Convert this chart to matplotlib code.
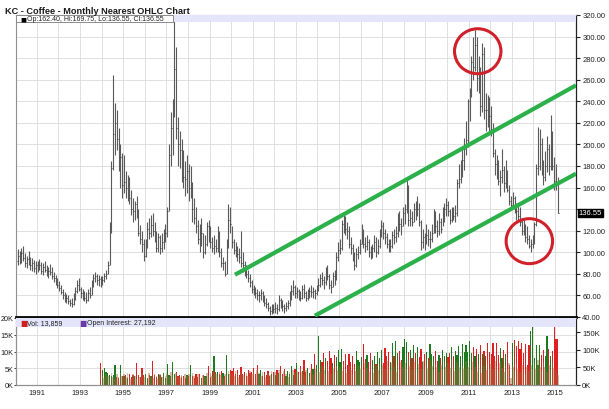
import numpy as np
import matplotlib
matplotlib.use('Agg')
import matplotlib.pyplot as plt
from matplotlib.patches import Ellipse, Rectangle

plt.rcParams['font.family'] = ['Liberation Sans', 'DejaVu Sans']

# monthly KC coffee, Jan 1990 .. Feb 2015 (cents/lb)
high = [
    100, 103, 101, 104, 106, 99, 97, 101, 96, 95, 93, 92,          # 1990
    92, 94, 91, 90, 92, 88, 86, 89, 86, 82, 79, 76,                # 1991
    73, 70, 66, 63, 61, 60, 57, 58, 62, 68, 74, 76,                # 1992
    68, 66, 64, 63, 66, 68, 74, 80, 82, 80, 79, 78,                # 1993
    78, 81, 84, 92, 128, 185, 264, 238, 232, 215, 200, 192,        # 1994
    190, 175, 172, 170, 158, 150, 148, 152, 140, 125, 120, 112,    # 1995
    112, 128, 132, 135, 136, 128, 120, 118, 116, 118, 122, 126,    # 1996
    142, 200, 230, 242, 318, 290, 225, 212, 205, 195, 185, 190,    # 1997
    182, 180, 165, 150, 142, 130, 126, 132, 118, 116, 128, 130,    # 1998
    124, 114, 116, 112, 124, 120, 104, 96, 92, 112, 145, 142,      # 1999
    124, 112, 110, 106, 104, 120, 100, 92, 88, 84, 80, 74,         # 2000
    70, 68, 66, 64, 66, 64, 60, 58, 54, 50, 52, 52,                # 2001
    54, 52, 60, 58, 56, 52, 54, 56, 64, 70, 74, 70,                # 2002
    68, 66, 64, 70, 71, 64, 66, 68, 70, 68, 66, 70,                # 2003
    76, 80, 82, 78, 86, 88, 80, 74, 82, 84, 100, 110,              # 2004
    112, 130, 137, 134, 128, 124, 114, 108, 100, 104, 106, 112,    # 2005
    126, 122, 114, 116, 112, 106, 108, 116, 114, 112, 122, 130,    # 2006
    128, 122, 118, 112, 112, 120, 122, 124, 136, 138, 132, 142,    # 2007
    145, 168, 162, 140, 138, 146, 148, 152, 146, 130, 122, 118,    # 2008
    126, 122, 120, 126, 140, 138, 130, 136, 132, 142, 146, 150,    # 2009
    148, 140, 142, 142, 144, 168, 182, 186, 196, 206, 222, 242,    # 2010
    252, 282, 300, 306, 300, 282, 272, 294, 290, 248, 246, 244,    # 2011
    236, 220, 196, 190, 186, 176, 196, 180, 186, 176, 162, 152,    # 2012
    156, 152, 146, 146, 142, 132, 130, 126, 124, 116, 112, 116,    # 2013
    128, 182, 216, 214, 206, 186, 194, 208, 200, 227, 212, 188,    # 2014
    182, 169.75,                                                   # 2015
]
low = [
    84, 88, 89, 90, 92, 86, 85, 88, 84, 83, 82, 80,
    82, 84, 80, 79, 82, 78, 76, 79, 75, 72, 70, 67,
    64, 61, 57, 54, 53, 52, 50, 49, 51, 56, 62, 64,
    58, 56, 55, 53, 55, 58, 60, 68, 72, 70, 69, 68,
    70, 72, 75, 80, 88, 118, 176, 190, 195, 175, 160, 150,
    155, 150, 148, 145, 135, 128, 130, 132, 115, 108, 100, 92,
    96, 104, 112, 114, 115, 110, 100, 100, 98, 100, 103, 110,
    114, 138, 180, 190, 225, 205, 180, 178, 165, 160, 152, 155,
    148, 150, 128, 126, 118, 108, 100, 106, 95, 98, 106, 110,
    104, 100, 98, 100, 100, 96, 86, 84, 78, 80, 104, 118,
    104, 98, 96, 92, 90, 86, 82, 78, 76, 72, 68, 62,
    60, 58, 56, 54, 56, 54, 50, 48, 46, 42, 43, 44,
    44, 43, 46, 48, 46, 44, 46, 47, 50, 56, 60, 58,
    58, 56, 55, 57, 58, 55, 56, 58, 59, 58, 57, 60,
    64, 68, 70, 66, 70, 74, 66, 62, 68, 70, 74, 92,
    98, 102, 118, 116, 112, 104, 98, 92, 84, 86, 94, 98,
    108, 104, 100, 102, 96, 94, 95, 100, 96, 98, 104, 114,
    112, 108, 104, 100, 100, 104, 108, 110, 114, 120, 116, 124,
    126, 136, 124, 124, 124, 128, 130, 134, 124, 102, 104, 102,
    108, 106, 104, 110, 118, 118, 114, 116, 118, 124, 128, 134,
    134, 126, 128, 130, 128, 134, 160, 164, 170, 176, 190, 198,
    222, 244, 260, 268, 250, 248, 226, 230, 224, 212, 216, 210,
    208, 188, 172, 168, 162, 152, 164, 156, 160, 156, 144, 140,
    140, 136, 130, 130, 124, 116, 116, 110, 108, 104, 100, 104,
    108, 124, 172, 176, 172, 162, 166, 174, 172, 176, 176, 158,
    158, 136.55,
]
close = [
    92, 97, 92, 99, 95, 90, 94, 91, 88, 90, 85, 88,
    86, 88, 83, 86, 84, 80, 83, 82, 78, 76, 73, 70,
    67, 63, 60, 57, 58, 55, 53, 52, 58, 64, 70, 66,
    62, 59, 58, 56, 62, 60, 70, 76, 78, 74, 75, 72,
    74, 78, 80, 88, 122, 178, 210, 220, 205, 182, 188, 162,
    165, 160, 168, 150, 140, 138, 145, 135, 118, 112, 108, 97,
    108, 122, 118, 125, 120, 115, 104, 114, 104, 110, 116, 118,
    138, 190, 215, 230, 270, 215, 200, 195, 178, 170, 168, 175,
    160, 170, 140, 132, 124, 112, 110, 118, 100, 108, 124, 118,
    110, 104, 106, 104, 118, 100, 90, 90, 80, 104, 130, 126,
    110, 102, 100, 98, 96, 90, 88, 84, 80, 76, 72, 66,
    64, 62, 60, 60, 62, 57, 53, 52, 48, 46, 49, 47,
    48, 47, 56, 52, 50, 48, 50, 53, 60, 64, 68, 62,
    64, 60, 58, 66, 62, 58, 62, 64, 63, 64, 62, 65,
    70, 76, 74, 72, 82, 78, 70, 68, 78, 76, 96, 102,
    104, 126, 124, 122, 120, 108, 104, 96, 88, 98, 100, 108,
    116, 108, 106, 110, 100, 98, 104, 110, 100, 106, 120, 124,
    118, 114, 108, 104, 106, 116, 114, 118, 130, 126, 124, 136,
    140, 150, 130, 132, 128, 140, 136, 140, 128, 110, 114, 110,
    116, 112, 112, 118, 134, 124, 120, 128, 122, 136, 140, 144,
    138, 130, 136, 134, 136, 164, 168, 180, 186, 196, 204, 240,
    246, 276, 272, 292, 262, 270, 236, 284, 232, 232, 228, 226,
    214, 192, 182, 176, 166, 170, 176, 164, 172, 158, 148, 144,
    150, 140, 138, 134, 128, 120, 118, 114, 112, 106, 108, 112,
    126, 178, 180, 200, 178, 170, 180, 196, 180, 200, 180, 166,
    163, 136.55,
]

# volume (K contracts) and open interest (K contracts), Dec 1993 .. Feb 2015
volume = [
    6.6,
    4.5, 5.0, 4.0, 3.5, 3.0, 2.8, 3.0, 6.0, 2.5, 2.0, 6.0, 2.8,
    2.6, 3.0, 2.0, 3.2, 2.4, 3.0, 2.8, 6.6, 3.0, 2.5, 5.2, 3.0,
    3.4, 2.2, 3.0, 2.6, 7.2, 3.0, 2.4, 3.2, 3.0, 2.4, 3.6, 2.2,
    6.2, 3.0, 2.8, 7.0, 3.4, 4.0, 2.6, 3.0, 2.4, 2.8, 2.0, 3.0,
    2.6, 6.0, 2.8, 2.0, 3.2, 2.4, 3.4, 2.2, 3.0, 2.6, 2.8, 5.6,
    2.4, 4.2, 8.6, 3.8, 4.0, 3.2, 4.2, 3.6, 2.8, 9.0, 3.4, 4.6,
    4.2, 5.2, 3.4, 4.6, 3.0, 5.4, 3.2, 4.0, 2.8, 4.4, 3.6, 3.8,
    5.0, 3.4, 6.0, 3.2, 4.6, 2.8, 3.8, 3.0, 4.2, 2.6, 3.4, 4.0,
    3.0, 4.4, 3.6, 5.8, 3.2, 4.8, 2.8, 4.2, 3.4, 5.6, 3.0, 4.8,
    6.6, 3.8, 5.6, 4.2, 7.6, 4.0, 5.2, 3.6, 6.2, 4.8, 9.4, 6.0,
    14.6, 7.6, 6.8, 9.6, 8.0, 7.2, 10.2, 8.2, 6.6, 9.0, 8.4, 10.4,
    7.0, 10.6, 7.2, 9.4, 6.0, 9.2, 7.0, 8.6, 6.2, 10.2, 7.4, 6.8,
    8.4, 12.2, 7.8, 9.0, 6.8, 9.6, 7.6, 8.8, 6.4, 9.8, 8.2, 10.4,
    6.6, 11.0, 8.8, 9.8, 7.0, 12.4, 8.6, 13.2, 9.6, 10.2, 7.6, 11.4,
    13.6, 12.8, 9.8, 10.4, 8.2, 12.0, 9.6, 11.2, 8.4, 10.8, 7.0, 9.4,
    10.0, 8.0, 12.2, 9.4, 8.6, 10.2, 7.2, 9.0, 8.2, 10.4, 8.8, 9.6,
    8.4, 9.6, 11.2, 8.6, 10.2, 9.0, 11.6, 8.8, 12.2, 10.0, 12.0, 9.8,
    13.2, 9.6, 11.4, 8.8, 10.6, 9.2, 11.8, 9.4, 10.2, 8.6, 12.6, 10.0,
    9.4, 12.4, 8.6, 12.4, 9.0, 11.0, 8.2, 10.4, 9.2, 12.8, 6.0, 0.4,
    12.4, 13.4, 11.6, 13.0, 10.8, 12.6, 9.6, 12.2, 6.0, 11.8, 16.0, 19.0,
    8.0, 12.0, 6.0, 11.8, 9.0, 10.4, 8.8, 14.6, 10.6, 8.6, 10.2, 17.4,
    13.6, 13.859,
]
open_int = [
    30,
    28, 20, 32, 26, 18, 34, 24, 16, 30, 22, 35, 26,
    30, 22, 34, 26, 18, 32, 25, 17, 28, 22, 33, 24,
    29, 21, 33, 27, 19, 31, 26, 18, 30, 23, 34, 25,
    31, 24, 36, 28, 20, 33, 27, 19, 29, 22, 32, 26,
    30, 23, 35, 27, 21, 32, 26, 18, 28, 24, 34, 27,
    33, 25, 38, 30, 22, 36, 28, 20, 32, 26, 40, 30,
    35, 27, 40, 31, 24, 37, 29, 21, 34, 27, 39, 30,
    36, 28, 42, 33, 25, 38, 30, 22, 35, 28, 41, 32,
    38, 30, 44, 34, 26, 40, 32, 24, 37, 30, 43, 33,
    40, 31, 47, 36, 28, 43, 34, 26, 40, 32, 46, 36,
    48, 36, 55, 42, 32, 50, 40, 30, 46, 37, 54, 42,
    52, 40, 60, 46, 35, 55, 44, 32, 50, 40, 58, 45,
    55, 42, 63, 48, 37, 58, 46, 34, 53, 42, 61, 47,
    58, 45, 68, 52, 40, 62, 50, 36, 57, 45, 66, 51,
    64, 48, 72, 55, 42, 66, 52, 38, 60, 46, 68, 52,
    60, 46, 70, 53, 40, 64, 50, 37, 58, 45, 66, 50,
    62, 47, 71, 54, 41, 65, 51, 38, 59, 46, 67, 51,
    58, 44, 66, 50, 38, 60, 47, 35, 55, 43, 62, 48,
    60, 46, 68, 52, 40, 62, 49, 36, 56, 44, 64, 20,
    52, 40, 60, 46, 36, 56, 44, 32, 52, 40, 58, 45,
    62, 46, 70, 52, 40, 64, 50, 36, 58, 44, 66, 48,
    42, 27.192,
]
vol_start = 47   # Dec 1993 = month index 47 from Jan 1990

# trend channel (year, price) and circled areas (year, price)
upper_channel = [(2000.18, 79.2), (2015.97, 254.8)]
lower_channel = [(2003.88, 41.2), (2015.97, 172.9)]
circles = [(2011.42, 286.4), (2013.81, 110.3)]

year_labels = list(range(1991, 2016, 2))
price_ticks = list(range(40, 321, 20))

W, H = 609, 410
fig = plt.figure(figsize=(W / 100, H / 100), dpi=100)
fig.patch.set_facecolor('white')

def box(left, top, right, bottom):
    return [left / W, 1 - bottom / H, (right - left) / W, (bottom - top) / H]

x = 1990 + (np.arange(len(close)) + 0.5) / 12
xlim = (1990.04, 2015.97)
grid_c = '#dadada'

# ---------- price panel ----------
ax = fig.add_axes(box(16, 16, 576, 318))
ax.set_xlim(*xlim)
ax.set_ylim(40, 320)
ax.vlines(x, low, high, color='#5a5a5a', lw=0.8)
ax.hlines(close, x, x + 0.035, color='#3a3a3a', lw=0.7)

for (p0, p1) in (upper_channel, lower_channel):
    ax.plot([p0[0], p1[0]], [p0[1], p1[1]], color='#2bb04a', lw=3.0,
            solid_capstyle='butt', zorder=5)
for cx, cy in circles:
    ax.add_patch(Ellipse((cx, cy), 2.15, 41.7, fill=False, ec='#d0202a',
                         lw=2.2, zorder=6))

ax.set_yticks(price_ticks)
# the 140 label sits under the last-price box, as in the source chart
ax.set_yticklabels(['' if v == 140 else '%.2f' % v for v in price_ticks])
ax.yaxis.tick_right()
ax.set_xticks(np.arange(1991, 2016))
ax.tick_params(axis='x', length=0, labelbottom=False)
ax.tick_params(axis='y', length=3, width=0.8, pad=1.5, labelsize=5.5,
               colors='#222222')
ax.grid(True, color=grid_c, lw=0.6)
ax.set_axisbelow(True)
for s in ('top', 'left'):
    ax.spines[s].set_color('#909090')
    ax.spines[s].set_linewidth(0.8)
ax.spines['right'].set_color('#222222')
ax.spines['right'].set_linewidth(0.9)
ax.spines['bottom'].set_color('black')
ax.spines['bottom'].set_linewidth(2)

# header band with the last bar's values
ax.add_patch(Rectangle((0, 0.977), 1, 0.023, transform=ax.transAxes,
                       fc='#e4e4fa', ec='none', zorder=3))
ax.add_patch(Rectangle((0, 0.977), 0.28, 0.023, transform=ax.transAxes,
                       fc='white', ec='#7a7a7a', lw=0.6, zorder=4))
ax.text(0.007, 0.9885, '\u25a0', transform=ax.transAxes, fontsize=4.5,
        va='center', ha='left', zorder=5, family=['DejaVu Sans'])
ax.text(0.019, 0.9885, 'Op:%.2f, Hi:%.2f, Lo:%.2f, Cl:%.2f'
        % (162.40, high[-1], low[-1], close[-1]),
        transform=ax.transAxes, fontsize=5, va='center', ha='left', zorder=5,
        color='#222222')
ax.text(1.005, close[-1], '%.2f' % close[-1], transform=ax.get_yaxis_transform(),
        fontsize=5.5, color='white', va='center', ha='left',
        bbox=dict(fc='black', ec='black', pad=0.6))

fig.text(5 / W, 1 - 11 / H, 'KC - Coffee - Monthly Nearest OHLC Chart',
         fontsize=6.6, fontweight='bold', color='#1a1a1a', va='center')

# ---------- volume panel ----------
av = fig.add_axes(box(16, 319, 576, 386))
av.set_xlim(*xlim)
av.set_ylim(0, 20)
xv = x[vol_start:]
prev = np.array(close[vol_start - 1:-1])
cur = np.array(close[vol_start:])
colors = np.where(cur >= prev, '#1e7a1e', '#e02020')
av.bar(xv, volume, width=0.055, color=colors, lw=0, zorder=2)

ao = av.twinx()
ao.set_ylim(0, 190.7)
ao.bar(xv, open_int, width=0.07, color='#9c6a3c', alpha=0.45, lw=0, zorder=3)
ao.set_yticks([0, 50, 100, 150])
ao.set_yticklabels(['0K', '50K', '100K', '150K'])
ao.tick_params(axis='y', length=3, width=0.8, pad=1.5, labelsize=5.5,
               colors='#222222')

av.set_yticks([0, 5, 10, 15, 20])
av.set_yticklabels(['0K', '5K', '10K', '15K', '20K'])
av.tick_params(axis='y', length=1.5, width=0.6, pad=0.5, labelsize=5.2,
               colors='#222222')
av.set_xticks(np.arange(1991, 2016))
av.set_xticklabels([str(y) if y in year_labels else '' for y in range(1991, 2016)])
av.tick_params(axis='x', length=0, pad=3, labelsize=5.5, colors='#222222')
av.grid(True, color=grid_c, lw=0.6)
av.set_axisbelow(True)
for a in (av, ao):
    for s in ('top', 'left', 'bottom'):
        a.spines[s].set_color('#909090')
        a.spines[s].set_linewidth(0.8)
    a.spines['right'].set_color('#222222')

ao.add_patch(Rectangle((0, 0.866), 1, 0.134, transform=ao.transAxes,
                       fc='#e4e4fa', ec='none', zorder=4))
ao.text(0.0075, 0.933, '\u25a0', transform=ao.transAxes, fontsize=5.5,
        color='#d02020', va='center', ha='left', zorder=5, family=['DejaVu Sans'])
ao.text(0.02, 0.933, 'Vol: 13,859', transform=ao.transAxes, fontsize=5,
        va='center', ha='left', zorder=5, color='#222222')
ao.text(0.113, 0.933, '\u25a0', transform=ao.transAxes, fontsize=5.5,
        color='#6a3aa8', va='center', ha='left', zorder=5, family=['DejaVu Sans'])
ao.text(0.126, 0.933, 'Open Interest: 27,192', transform=ao.transAxes,
        fontsize=5, va='center', ha='left', zorder=5, color='#222222')

fig.savefig('out.png', dpi=100)
